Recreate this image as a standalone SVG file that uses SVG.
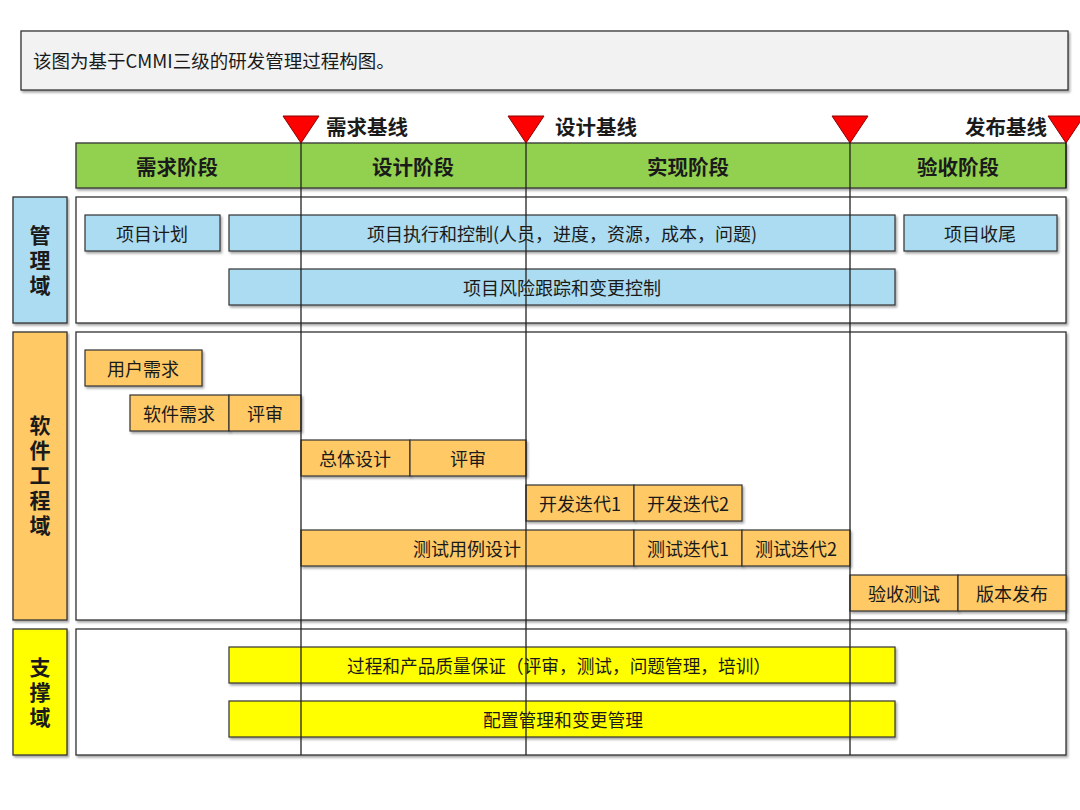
<svg xmlns="http://www.w3.org/2000/svg" width="1080" height="810" viewBox="0 0 1080 810">
<defs>
<filter id="sh" x="-5%" y="-20%" width="110%" height="150%">
<feDropShadow dx="1.5" dy="2" stdDeviation="1.2" flood-color="#000" flood-opacity="0.35"/>
</filter>
<style>
text{font-family:"Noto Sans CJK SC","Microsoft YaHei",sans-serif;fill:#1a1a1a}
.bar{stroke:#333;stroke-width:1.2;filter:url(#sh)}
.blue{fill:#acdcf1}
.org{fill:#ffc966}
.yel{fill:#ffff00}
.lbl{font-size:18px;text-anchor:middle;dominant-baseline:central}
.hd{font-size:20.5px;font-weight:bold;text-anchor:middle;dominant-baseline:central}
.bl{font-size:20.5px;font-weight:bold;dominant-baseline:central}
.dom{font-size:21px;font-weight:bold;text-anchor:middle;writing-mode:tb;letter-spacing:4px}
.panel{fill:#fff;stroke:#333;stroke-width:1.3;filter:url(#sh)}
.vline{stroke:#222;stroke-width:1.3}
.tri{fill:#ff0000;stroke:#8a0000;stroke-width:1}
</style>
</defs>
<rect width="1080" height="810" fill="#fff"/>

<g id="title">
<rect x="21" y="31" width="1047" height="59" fill="#f2f2f2" stroke="#333" stroke-width="1.3" filter="url(#sh)"/>
<text x="33" y="60" font-size="18.5" dominant-baseline="central">该图为基于CMMI三级的研发管理过程构图。</text>
</g>

<g id="phases">
<rect x="76" y="143" width="990" height="45" fill="#92d050" stroke="#333" stroke-width="1.3" filter="url(#sh)"/>
<text class="hd" x="177" y="166">需求阶段</text>
<text class="hd" x="413" y="166">设计阶段</text>
<text class="hd" x="688" y="166">实现阶段</text>
<text class="hd" x="958" y="166">验收阶段</text>
</g>

<g id="domain-mgmt">
<rect class="panel" x="76" y="197" width="990" height="126"/>
<rect x="13" y="197" width="54" height="126" fill="#acdcf1" stroke="#333" stroke-width="1.3" filter="url(#sh)"/>
<text class="dom" x="40" y="262">管理域</text>
</g>
<g id="domain-sw">
<rect class="panel" x="76" y="332" width="990" height="288"/>
<rect x="13" y="332" width="54" height="288" fill="#ffc966" stroke="#333" stroke-width="1.3" filter="url(#sh)"/>
<text class="dom" x="40" y="477">软件工程域</text>
</g>
<g id="domain-sup">
<rect class="panel" x="76" y="629" width="990" height="126"/>
<rect x="13" y="629" width="54" height="126" fill="#ffff00" stroke="#333" stroke-width="1.3" filter="url(#sh)"/>
<text class="dom" x="40" y="694">支撑域</text>
</g>

<g id="n-plan"><rect class="bar blue" x="85" y="215" width="135" height="36"/><text class="lbl" x="152" y="233">项目计划</text></g>
<g id="n-exec"><rect class="bar blue" x="229" y="215" width="666" height="36"/><text class="lbl" x="562" y="233">项目执行和控制(人员，进度，资源，成本，问题)</text></g>
<g id="n-close"><rect class="bar blue" x="904" y="215" width="153" height="36"/><text class="lbl" x="980" y="233">项目收尾</text></g>
<g id="n-risk"><rect class="bar blue" x="229" y="269" width="666" height="36"/><text class="lbl" x="562" y="287">项目风险跟踪和变更控制</text></g>

<g id="n-userreq"><rect class="bar org" x="85" y="350" width="117" height="36"/><text class="lbl" x="143" y="368">用户需求</text></g>
<g id="n-swreq"><rect class="bar org" x="130" y="395" width="99" height="36"/><text class="lbl" x="179" y="413">软件需求</text></g>
<g id="n-rev1"><rect class="bar org" x="229" y="395" width="72" height="36"/><text class="lbl" x="265" y="413">评审</text></g>
<g id="n-design"><rect class="bar org" x="301" y="440" width="109" height="36"/><text class="lbl" x="355" y="458">总体设计</text></g>
<g id="n-rev2"><rect class="bar org" x="410" y="440" width="116" height="36"/><text class="lbl" x="468" y="458">评审</text></g>
<g id="n-dev1"><rect class="bar org" x="526" y="485" width="108" height="36"/><text class="lbl" x="580" y="503">开发迭代1</text></g>
<g id="n-dev2"><rect class="bar org" x="634" y="485" width="108" height="36"/><text class="lbl" x="688" y="503">开发迭代2</text></g>
<g id="n-tcase"><rect class="bar org" x="301" y="530" width="333" height="36"/><text class="lbl" x="467" y="548">测试用例设计</text></g>
<g id="n-test1"><rect class="bar org" x="634" y="530" width="108" height="36"/><text class="lbl" x="688" y="548">测试迭代1</text></g>
<g id="n-test2"><rect class="bar org" x="742" y="530" width="108" height="36"/><text class="lbl" x="796" y="548">测试迭代2</text></g>
<g id="n-accept"><rect class="bar org" x="850" y="575" width="108" height="36"/><text class="lbl" x="904" y="593">验收测试</text></g>
<g id="n-release"><rect class="bar org" x="958" y="575" width="108" height="36"/><text class="lbl" x="1012" y="593">版本发布</text></g>

<g id="n-qa"><rect class="bar yel" x="229" y="647" width="666" height="36"/><text class="lbl" x="559" y="665" font-size="20" textLength="424" lengthAdjust="spacingAndGlyphs">过程和产品质量保证（评审，测试，问题管理，培训）</text></g>
<g id="n-cm"><rect class="bar yel" x="229" y="701" width="666" height="36"/><text class="lbl" x="563" y="719" font-size="20" textLength="160" lengthAdjust="spacingAndGlyphs">配置管理和变更管理</text></g>

<g id="connectors">
<line class="vline" x1="301" y1="130" x2="301" y2="755"/>
<line class="vline" x1="526" y1="130" x2="526" y2="755"/>
<line class="vline" x1="850" y1="130" x2="850" y2="755"/>
<line class="vline" x1="1066" y1="130" x2="1066" y2="188"/>
</g>

<g id="baselines">
<polygon class="tri" points="283,116 319,116 301,143"/>
<polygon class="tri" points="508,116 544,116 526,143"/>
<polygon class="tri" points="832,116 868,116 850,143"/>
<polygon class="tri" points="1048,116 1084,116 1066,143"/>
<text class="bl" x="326" y="126">需求基线</text>
<text class="bl" x="555" y="126">设计基线</text>
<text class="bl" x="1047" y="126" text-anchor="end">发布基线</text>
</g>
</svg>
